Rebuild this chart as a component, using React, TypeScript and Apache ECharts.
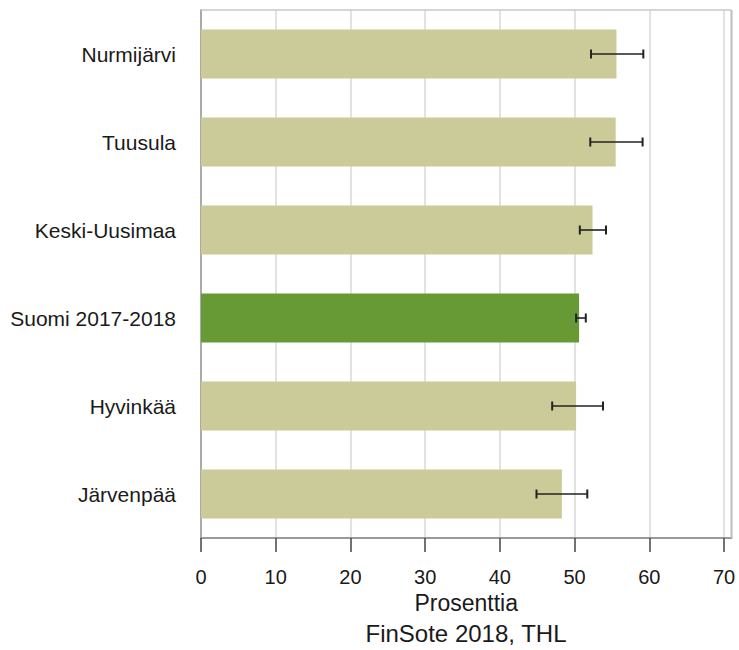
import React, { useEffect, useRef } from "react";
import * as echarts from "echarts";

const categories = ["Nurmijärvi", "Tuusula", "Keski-Uusimaa", "Suomi 2017-2018", "Hyvinkää", "Järvenpää"];
const values = [55.6, 55.5, 52.4, 50.6, 50.2, 48.3];
const lowerCI = [52.2, 52.1, 50.7, 50.2, 47.0, 44.9];
const upperCI = [59.2, 59.1, 54.2, 51.5, 53.8, 51.7];
const highlighted = "Suomi 2017-2018";
const xTicks = [0, 10, 20, 30, 40, 50, 60, 70];
const xAxisName = "Prosenttia";
const sourceText = "FinSote 2018, THL";

const FONT = "'Liberation Sans', Arial, sans-serif";

export default function App() {
  const ref = useRef<HTMLDivElement>(null);
  useEffect(() => {
    if (!ref.current) return;
    const chart = echarts.init(ref.current, null, { renderer: "svg" });
    const errStyle = { stroke: "#222", lineWidth: 1.6 };
    chart.setOption({
      animation: false,
      textStyle: { fontFamily: FONT },
      grid: { left: 201, top: 10, width: 530.5, height: 528, containLabel: false },
      xAxis: {
        type: "value",
        min: 0,
        max: 71,
        interval: 10,
        name: xAxisName,
        nameLocation: "middle",
        nameGap: 48,
        nameTextStyle: { fontSize: 23, color: "#1a1a1a", fontFamily: FONT },
        axisLine: { show: true, lineStyle: { color: "#999", width: 2 } },
        axisTick: { show: true, length: 14, customValues: xTicks, lineStyle: { color: "#444", width: 1.5 } },
        axisLabel: {
          fontSize: 20,
          color: "#1a1a1a",
          margin: 29,
          fontFamily: FONT,
          customValues: xTicks,
        },
        splitLine: { show: true, lineStyle: { color: "#e2e2e2", width: 2 } },
      },
      yAxis: {
        type: "category",
        data: categories,
        inverse: true,
        axisLine: { show: true, lineStyle: { color: "#aaa", width: 2 } },
        axisTick: { show: false },
        axisLabel: { fontSize: 21, color: "#1a1a1a", margin: 25, fontFamily: FONT },
        splitLine: { show: false },
      },
      graphic: [
        {
          type: "line",
          shape: { x1: 201, y1: 10, x2: 731.5, y2: 10 },
          style: { stroke: "#c8c8c8", lineWidth: 1.5 },
          z: 5,
        },
        {
          type: "line",
          shape: { x1: 731.5, y1: 10, x2: 731.5, y2: 538 },
          style: { stroke: "#bdbdbd", lineWidth: 2 },
          z: 5,
        },
        {
          type: "text",
          x: 466,
          y: 633,
          style: {
            text: sourceText,
            fontSize: 24,
            fontFamily: FONT,
            fill: "#1a1a1a",
            textAlign: "center",
            textVerticalAlign: "middle",
          },
        },
      ],
      series: [
        {
          type: "bar",
          barWidth: 49,
          data: categories.map((c, i) => ({
            value: values[i],
            itemStyle: { color: c === highlighted ? "#679a34" : "#cbcb99" },
          })),
          z: 2,
        },
        {
          type: "custom",
          encode: { x: [1, 2], y: 0 },
          data: categories.map((c, i) => [i, lowerCI[i], upperCI[i]]),
          z: 10,
          renderItem: (params: any, api: any) => {
            const cat = api.value(0);
            const p1 = api.coord([api.value(1), cat]);
            const p2 = api.coord([api.value(2), cat]);
            const h = 4.5;
            return {
              type: "group",
              children: [
                { type: "line", shape: { x1: p1[0], y1: p1[1], x2: p2[0], y2: p2[1] }, style: errStyle },
                { type: "line", shape: { x1: p1[0], y1: p1[1] - h, x2: p1[0], y2: p1[1] + h }, style: { ...errStyle, lineWidth: 2 } },
                { type: "line", shape: { x1: p2[0], y1: p2[1] - h, x2: p2[0], y2: p2[1] + h }, style: { ...errStyle, lineWidth: 2 } },
              ],
            };
          },
        },
      ],
    });
    return () => chart.dispose();
  }, []);
  return (
    <div
      ref={ref}
      style={{ position: "absolute", left: 0, top: 0, width: 739, height: 650 }}
    />
  );
}
